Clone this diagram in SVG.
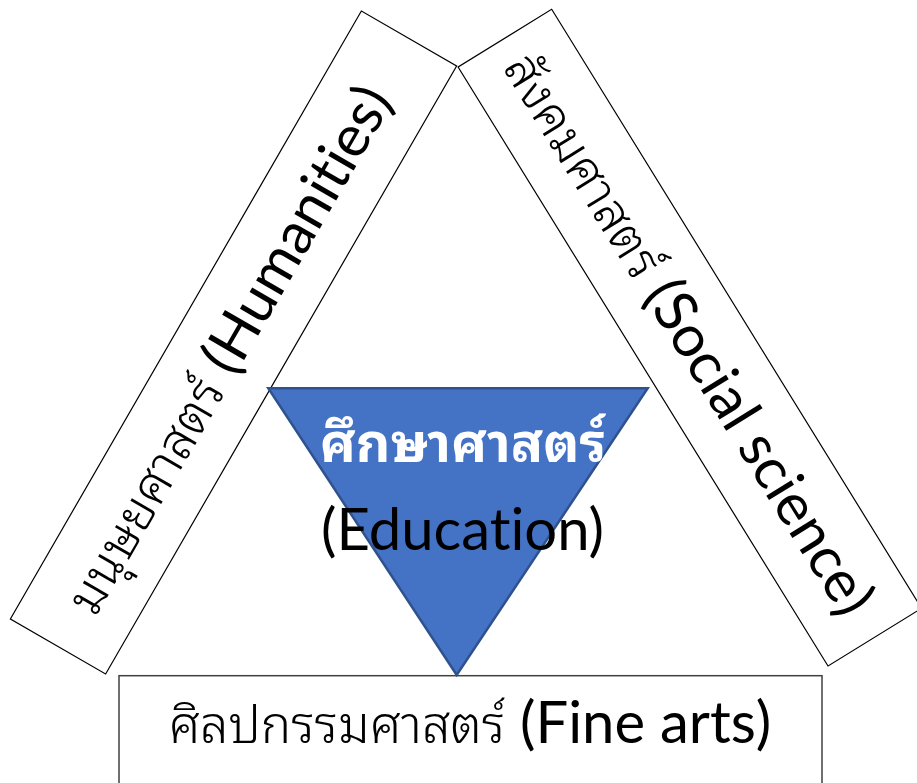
<svg xmlns="http://www.w3.org/2000/svg" width="917" height="783" viewBox="0 0 917 783">
<style>
.box{fill:#fff;stroke:#000;stroke-width:1.2}
.lbl{font-family:"Lato","Noto Sans Thai Looped",sans-serif;font-size:58px;fill:#000;font-variant-ligatures:none}
.thai{font-family:"Noto Sans Thai Looped",sans-serif;font-size:51px;font-weight:300}
.tri{fill:#4472C4;stroke:#2F528F;stroke-width:2.5}
.th{font-family:"Noto Sans Thai Looped",sans-serif;font-weight:bold;font-size:53.5px;fill:#fff}
</style>
<rect width="917" height="783" fill="#fff"/>
<g id="humanities" transform="translate(233.5 342.5) rotate(-60)">
<rect class="box" x="-351" y="-55" width="702" height="110"/>
<text class="lbl" x="-9" y="18" text-anchor="middle"><tspan class="thai">มนุษยศาสตร์</tspan> (Humanities)</text>
</g>
<g id="social" transform="translate(689.85 337.65) rotate(58.3)">
<rect class="box" x="-352" y="-55" width="704" height="110"/>
<text class="lbl" x="-4" y="18" text-anchor="middle"><tspan class="thai">สังคมศาสตร์</tspan> (Social science)</text>
</g>
<g id="finearts">
<rect class="box" x="119" y="675.7" width="703" height="120" style="stroke:#404040;stroke-width:1.5"/>
<text class="lbl" x="470" y="743" text-anchor="middle"><tspan class="thai">ศิลปกรรมศาสตร์</tspan> (Fine arts)</text>
</g>
<g id="education">
<polygon class="tri" points="268.3,388.3 647.7,388.3 456.7,675"/>
<text class="th" x="463" y="462" text-anchor="middle">ศึกษาศาสตร์</text>
<text class="lbl" x="462.5" y="550" text-anchor="middle">(Education)</text>
</g>
<g id="connectors"/>
</svg>
